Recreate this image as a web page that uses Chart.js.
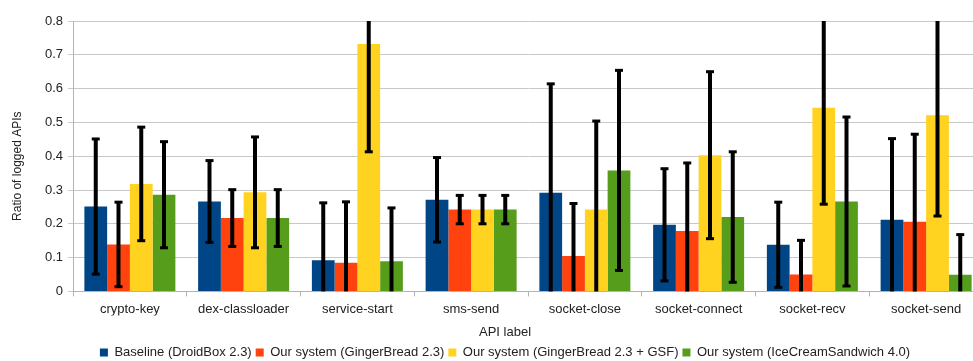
<!DOCTYPE html>
<html>
<head>
<meta charset="utf-8">
<script src="https://cdn.jsdelivr.net/npm/chart.js@4/dist/chart.umd.min.js"></script>
<style>
  html, body { margin: 0; padding: 0; background: #fff; overflow: hidden; }
  #wrap { width: 1010px; height: 369px; position: relative; }
</style>
</head>
<body>
<div id="wrap"><canvas id="chart"></canvas></div>
<script>
// categories and series (ratio of logged APIs, with error bar half-widths)
const apiLabels = ["crypto-key", "dex-classloader", "service-start", "sms-send", "socket-close", "socket-connect", "socket-recv", "socket-send"];

const baseline    = [0.251, 0.266, 0.092, 0.271, 0.292, 0.197, 0.138, 0.212];
const baselineErr = [0.200, 0.121, 0.170, 0.125, 0.322, 0.166, 0.126, 0.240];

const gb23    = [0.139, 0.217, 0.085, 0.242, 0.105, 0.179, 0.050, 0.206];
const gb23Err = [0.125, 0.084, 0.180, 0.042, 0.155, 0.201, 0.101, 0.259];

const gb23gsf    = [0.318, 0.293, 0.732, 0.242, 0.242, 0.403, 0.543, 0.521];
const gb23gsfErr = [0.168, 0.164, 0.319, 0.042, 0.262, 0.247, 0.285, 0.298];

const ics40    = [0.286, 0.217, 0.089, 0.242, 0.358, 0.220, 0.266, 0.049];
const ics40Err = [0.157, 0.084, 0.158, 0.042, 0.296, 0.193, 0.250, 0.119];

const yTicks = [0, 0.1, 0.2, 0.3, 0.4, 0.5, 0.6, 0.7, 0.8];

// ====== error bars drawn on top of the bars ======
const errorBars = {
    id: "errorBars",
    afterDatasetsDraw(chart) {
        const ctx = chart.ctx;
        const y = chart.scales.y;
        const area = chart.chartArea;
        ctx.save();
        ctx.strokeStyle = "#000";
        chart.data.datasets.forEach((ds, i) => {
            const meta = chart.getDatasetMeta(i);
            meta.data.forEach((bar, j) => {
                const v = ds.data[j], e = ds.err[j];
                const hi = v + e, lo = v - e;
                const yHi = Math.max(y.getPixelForValue(hi), area.top);
                const yLo = Math.min(y.getPixelForValue(lo), area.bottom);
                ctx.lineWidth = 4;
                ctx.beginPath();
                ctx.moveTo(bar.x, yHi);
                ctx.lineTo(bar.x, yLo);
                ctx.stroke();
                ctx.lineWidth = 3;
                if (hi <= 0.8) {
                    ctx.beginPath();
                    ctx.moveTo(bar.x - 4, yHi);
                    ctx.lineTo(bar.x + 4, yHi);
                    ctx.stroke();
                }
                if (lo >= 0) {
                    ctx.beginPath();
                    ctx.moveTo(bar.x - 4, yLo);
                    ctx.lineTo(bar.x + 4, yLo);
                    ctx.stroke();
                }
            });
        });
        ctx.restore();
    }
};

Chart.defaults.font.family = "'Liberation Sans', Arial, sans-serif";
Chart.defaults.font.size = 13;
Chart.defaults.color = "#222";

new Chart(document.getElementById("chart"), {
    type: "bar",
    data: {
        labels: apiLabels,
        datasets: [
            { label: "Baseline (DroidBox 2.3)", data: baseline, err: baselineErr, backgroundColor: "#004586" },
            { label: "Our system (GingerBread 2.3)", data: gb23, err: gb23Err, backgroundColor: "#ff420e" },
            { label: "Our system (GingerBread 2.3 + GSF)", data: gb23gsf, err: gb23gsfErr, backgroundColor: "#ffd320" },
            { label: "Our system (IceCreamSandwich 4.0)", data: ics40, err: ics40Err, backgroundColor: "#579d1c" }
        ]
    },
    options: {
        responsive: true,
        maintainAspectRatio: false,
        animation: false,
        layout: { padding: { left: 0, right: 0, top: 21, bottom: 0 } },
        datasets: { bar: { categoryPercentage: 0.8, barPercentage: 1.0 } },
        plugins: {
            tooltip: { enabled: false },
            legend: {
                position: "bottom",
                labels: { boxWidth: 8, boxHeight: 8, padding: 4, font: { size: 13 } },
                title: { display: true, text: "API label", padding: { top: 11, bottom: 0 }, font: { size: 13 } }
            }
        },
        scales: {
            x: {
                grid: { drawOnChartArea: false, drawTicks: true, tickLength: 5, color: "#b3b3b3", offset: true },
                border: { color: "#b3b3b3" },
                ticks: { padding: 5, font: { size: 13 } },
                afterFit: (s) => { s.height = 24; }
            },
            y: {
                min: 0,
                max: 0.8,
                afterBuildTicks: (s) => { s.ticks = yTicks.map(v => ({ value: v })); },
                grid: { color: "#c8c8c8", tickLength: 5, lineWidth: 1 },
                border: { color: "#b3b3b3" },
                ticks: { padding: 5, font: { size: 13 }, callback: (v) => String(v) },
                title: { display: true, text: "Ratio of logged APIs      ", font: { size: 12 }, padding: { top: 10, bottom: 0 } },
                afterFit: (s) => { s.width = 73; }
            },
            // empty spacer on the right so the plot runs past the window edge
            spacer: {
                type: "linear",
                position: "right",
                display: true,
                grid: { display: false },
                border: { display: false },
                ticks: { display: false },
                afterFit: (s) => { s.width = 27; }
            }
        }
    },
    plugins: [errorBars]
});
</script>
</body>
</html>
